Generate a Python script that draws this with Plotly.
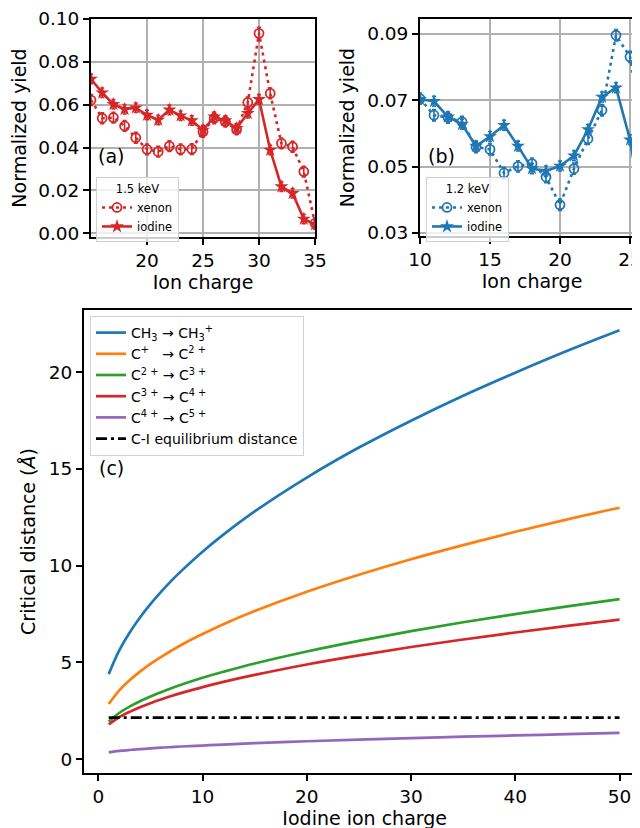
import plotly.graph_objects as go

# ---------------- data ----------------
# panel (a): 1.5 keV
charge_a = [15, 16, 17, 18, 19, 20, 21, 22, 23, 24, 25, 26, 27, 28, 29, 30, 31, 32, 33, 34, 35]
xenon_a = [0.0622, 0.0537, 0.0540, 0.0501, 0.0446, 0.0392, 0.0381, 0.0407, 0.0392, 0.0393, 0.0474,
           0.0537, 0.0521, 0.0485, 0.0611, 0.0933, 0.0653, 0.0420, 0.0404, 0.0288, 0.0047]
xenon_a_err = [0.0025, 0.0025, 0.0025, 0.0025, 0.0025, 0.0025, 0.0025, 0.0025, 0.0025, 0.0025, 0.0025,
               0.0025, 0.0025, 0.0025, 0.0025, 0.0028, 0.0025, 0.0025, 0.0025, 0.0025, 0.0025]
iodine_a = [0.0720, 0.0656, 0.0602, 0.0579, 0.0586, 0.0552, 0.0529, 0.0576, 0.0549, 0.0526, 0.0482,
            0.0544, 0.0526, 0.0490, 0.0560, 0.0625, 0.0389, 0.0218, 0.0187, 0.0067, 0.0042]
iodine_a_err = [0.0022, 0.0022, 0.0022, 0.0022, 0.0022, 0.0022, 0.0022, 0.0022, 0.0022, 0.0022, 0.0022,
                0.0022, 0.0022, 0.0022, 0.0022, 0.0022, 0.0022, 0.0022, 0.0022, 0.0022, 0.0022]

# panel (b): 1.2 keV
charge_b = [10, 11, 12, 13, 14, 15, 16, 17, 18, 19, 20, 21, 22, 23, 24, 25, 26]
xenon_b = [0.0705, 0.0655, 0.0648, 0.0635, 0.0559, 0.0552, 0.0481, 0.0501, 0.0509, 0.0469, 0.0385,
           0.0494, 0.0584, 0.0670, 0.0896, 0.0831, 0.0580]
xenon_b_err = [0.0017, 0.0017, 0.0017, 0.0017, 0.0017, 0.0017, 0.0017, 0.0017, 0.0017, 0.0017, 0.0017,
               0.0017, 0.0017, 0.0017, 0.0017, 0.0017, 0.0017]
iodine_b = [0.0703, 0.0697, 0.0650, 0.0628, 0.0562, 0.0591, 0.0625, 0.0562, 0.0494, 0.0487, 0.0502,
            0.0533, 0.0612, 0.0710, 0.0738, 0.0581, 0.0330]
iodine_b_err = [0.0015, 0.0015, 0.0015, 0.0015, 0.0015, 0.0015, 0.0015, 0.0015, 0.0015, 0.0015, 0.0015,
                0.0015, 0.0015, 0.0015, 0.0015, 0.0015, 0.0015]

# panel (c): critical distance vs iodine ion charge
iodine_charge = [1, 2, 3, 4, 5, 6, 7, 8, 10, 12, 15, 20, 25, 30, 35, 40, 45, 50]
d_ch3 = [4.39, 5.60, 6.53, 7.32, 8.01, 8.63, 9.21, 9.74, 10.72, 11.60, 12.80, 14.55, 16.10, 17.49, 18.78, 19.97, 21.10, 22.16]
d_c1 = [2.85, 3.54, 4.07, 4.52, 4.92, 5.27, 5.60, 5.91, 6.46, 6.97, 7.65, 8.65, 9.53, 10.33, 11.06, 11.75, 12.39, 12.99]
d_c2 = [1.94, 2.38, 2.71, 2.99, 3.23, 3.45, 3.66, 3.85, 4.20, 4.51, 4.94, 5.56, 6.11, 6.61, 7.07, 7.49, 7.89, 8.27]
d_c3 = [1.79, 2.16, 2.44, 2.68, 2.89, 3.08, 3.26, 3.42, 3.72, 3.99, 4.35, 4.89, 5.36, 5.79, 6.18, 6.54, 6.88, 7.21]
d_c4 = [0.35, 0.42, 0.47, 0.51, 0.55, 0.59, 0.62, 0.65, 0.70, 0.75, 0.82, 0.92, 1.01, 1.08, 1.16, 1.22, 1.29, 1.35]
eq_charge = [1, 50]
eq_distance = [2.14, 2.14]

curve_names = ["CH<sub>3</sub> → CH<sub>3</sub><sup>+</sup>",
               "C<sup>+</sup>   → C<sup>2 +</sup>",
               "C<sup>2 +</sup> → C<sup>3 +</sup>",
               "C<sup>3 +</sup> → C<sup>4 +</sup>",
               "C<sup>4 +</sup> → C<sup>5 +</sup>"]
curve_colors = ["#1f77b4", "#ff7f0e", "#2ca02c", "#d62728", "#9467bd"]

# ---------------- figure ----------------
W, H = 640, 828
OFF = 8  # page body margin
FONT = "DejaVu Sans"
RED = "#d62728"
BLUE = "#1f77b4"

fig = go.Figure()


def add_pair(x, xe, xe_err, io, io_err, color, xa, ya, leg):
    fig.add_trace(go.Scatter(
        x=x, y=xe, name="xenon", mode="lines+markers", xaxis=xa, yaxis=ya, legend=leg,
        line=dict(color=color, width=2.6, dash="3px,4px"),
        marker=dict(symbol="circle-open", size=9, color=color, line=dict(width=1.8, color=color)),
        error_y=dict(type="data", array=xe_err, color=color, thickness=1.6, width=2)))
    fig.add_trace(go.Scatter(
        x=x, y=io, name="iodine", mode="lines+markers", xaxis=xa, yaxis=ya, legend=leg,
        line=dict(color=color, width=2.6),
        marker=dict(symbol="star", size=10.5, color=color, line=dict(width=0)),
        error_y=dict(type="data", array=io_err, color=color, thickness=1.6, width=2)))


add_pair(charge_a, xenon_a, xenon_a_err, iodine_a, iodine_a_err, RED, "x", "y", "legend")
add_pair(charge_b, xenon_b, xenon_b_err, iodine_b, iodine_b_err, BLUE, "x2", "y2", "legend2")

for name, col, vals in zip(curve_names, curve_colors, [d_ch3, d_c1, d_c2, d_c3, d_c4]):
    fig.add_trace(go.Scatter(x=iodine_charge, y=vals, name=name, mode="lines", line_shape="spline",
                             line=dict(color=col, width=2.7), xaxis="x3", yaxis="y3", legend="legend3"))
fig.add_trace(go.Scatter(x=eq_charge, y=eq_distance, name="C-I equilibrium distance", mode="lines",
                         line=dict(color="black", width=2.7, dash="11px,4px,3px,4px"),
                         xaxis="x3", yaxis="y3", legend="legend3"))


def px_x(p):
    return min(1.0, (p - OFF) / W)


def px_y(p):
    return 1 - (p - OFF) / H


axis_common = dict(showline=True, linecolor="black", linewidth=1.8, ticks="outside", ticklen=6,
                   tickwidth=1.5, tickcolor="black", tickfont=dict(size=18.5, color="black", family=FONT),
                   zeroline=False, automargin=False)
grid = dict(showgrid=True, gridcolor="#b0b0b0", gridwidth=1.5)
title_font = dict(size=19, color="black", family=FONT)

legend_common = dict(bgcolor="rgba(255,255,255,0.8)", bordercolor="#d0d0d0", borderwidth=1,
                     xanchor="left", yanchor="top", tracegroupgap=0)

fig.update_layout(
    width=W, height=H, margin=dict(l=0, r=0, t=0, b=0),
    paper_bgcolor="white", plot_bgcolor="white",
    font=dict(family=FONT, color="black"),
    xaxis=dict(domain=[px_x(91), px_x(315)], range=[15, 35], anchor="y", tickvals=[20, 25, 30, 35],
               mirror=True, title=dict(text="Ion charge", font=title_font, standoff=6), **axis_common, **grid),
    yaxis=dict(domain=[px_y(237), px_y(19)], range=[-0.0017, 0.1], anchor="x",
               tickvals=[0, 0.02, 0.04, 0.06, 0.08, 0.10], tickformat=".2f",
               mirror=True, title=dict(text="Normalized yield", font=title_font, standoff=8), **axis_common, **grid),
    xaxis2=dict(domain=[px_x(420), px_x(644)], range=[10, 26], anchor="y2", tickvals=[10, 15, 20, 25],
                mirror=True, title=dict(text="Ion charge", font=title_font, standoff=6), **axis_common, **grid),
    yaxis2=dict(domain=[px_y(236), px_y(19)], range=[0.0291, 0.0945], anchor="x2",
                tickvals=[0.03, 0.05, 0.07, 0.09], tickformat=".2f",
                mirror=True, title=dict(text="Normalized yield", font=title_font, standoff=8), **axis_common, **grid),
    xaxis3=dict(domain=[px_x(84), px_x(645.4)], range=[-1.37, 52.48], anchor="y3", tickvals=[0, 10, 20, 30, 40, 50],
                mirror=True, showgrid=False,
                title=dict(text="Iodine ion charge", font=title_font, standoff=6), **axis_common),
    yaxis3=dict(domain=[px_y(773), px_y(310)], range=[-0.72, 23.21], anchor="x3", tickvals=[0, 5, 10, 15, 20],
                mirror=True, showgrid=False,
                title=dict(text="Critical distance (<i>Å</i>)", font=title_font, standoff=8), **axis_common),
    legend=dict(x=px_x(96), y=px_y(177), title=dict(text="1.5 keV", side="top center", font=dict(size=11.5)),
                font=dict(size=11.5), itemwidth=30, **legend_common),
    legend2=dict(x=px_x(426), y=px_y(177), title=dict(text="1.2 keV", side="top center", font=dict(size=11.5)),
                 font=dict(size=11.5), itemwidth=30, **legend_common),
    legend3=dict(x=px_x(90), y=px_y(316), font=dict(size=14), itemwidth=30, **legend_common),
    annotations=[
        dict(text="(a)", x=px_x(96), y=px_y(156), xref="paper", yref="paper", xanchor="left", yanchor="middle",
             showarrow=False, font=dict(size=19, color="black", family=FONT)),
        dict(text="(b)", x=px_x(426), y=px_y(156), xref="paper", yref="paper", xanchor="left", yanchor="middle",
             showarrow=False, font=dict(size=19, color="black", family=FONT)),
        dict(text="(c)", x=px_x(97), y=px_y(468), xref="paper", yref="paper", xanchor="left", yanchor="middle",
             showarrow=False, font=dict(size=19, color="black", family=FONT)),
    ],
)

fig.write_html("out.html")
